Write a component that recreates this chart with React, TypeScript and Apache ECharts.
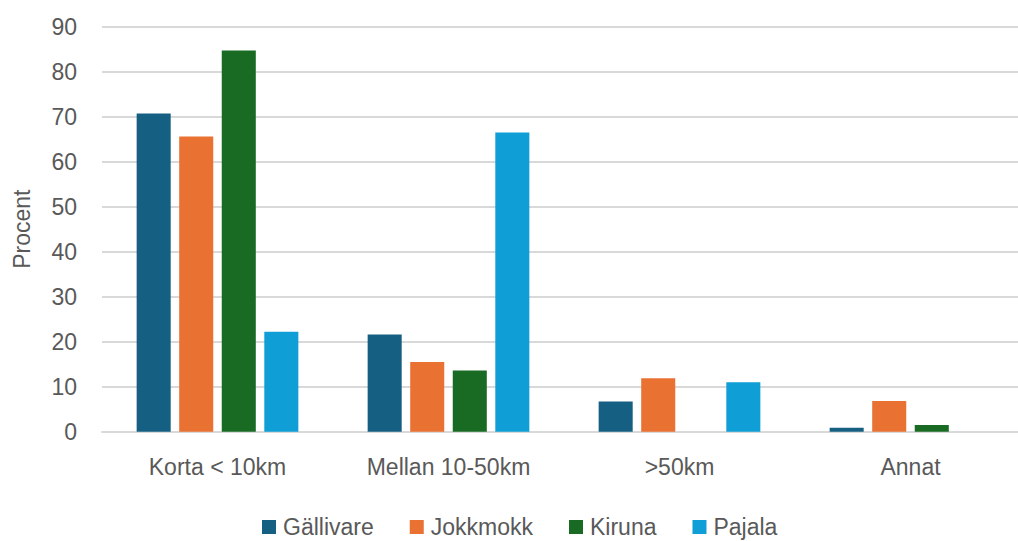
import React, { useEffect, useRef } from "react";
import * as echarts from "echarts";

const categories = ["Korta < 10km", "Mellan 10-50km", ">50km", "Annat"];
const gallivare = [70.7, 21.6, 6.7, 0.9];
const jokkmokk = [65.6, 15.5, 11.9, 6.8];
const kiruna = [84.7, 13.6, 0, 1.5];
const pajala = [22.2, 66.5, 11.0, 0];
const seriesNames = ["Gällivare", "Jokkmokk", "Kiruna", "Pajala"];
const seriesColors = ["#156082", "#E97132", "#196B24", "#0F9ED5"];

const FONT = "Liberation Sans";
const TEXT = "#595959";

export default function App() {
  const ref = useRef<HTMLDivElement>(null);
  useEffect(() => {
    if (!ref.current) return;
    const chart = echarts.init(ref.current, undefined, { renderer: "svg" });
    const data = [gallivare, jokkmokk, kiruna, pajala];
    chart.setOption({
      animation: false,
      backgroundColor: "#ffffff",
      textStyle: { fontFamily: FONT },
      grid: { left: 102, right: 4, top: 26.7, bottom: 109.3, containLabel: false },
      legend: {
        data: seriesNames,
        left: 262,
        top: 514,
        padding: 0,
        itemWidth: 14,
        itemHeight: 14,
        itemGap: 36,
        icon: "rect",
        textStyle: { fontFamily: FONT, fontSize: 23, lineHeight: 26, color: TEXT, padding: [0, 0, 0, 2] },
      },
      xAxis: {
        type: "category",
        data: categories,
        axisLine: { show: true, lineStyle: { color: "#d9d9d9", width: 2 } },
        axisTick: { show: false },
        axisLabel: { fontFamily: FONT, fontSize: 23, color: TEXT, margin: 24 },
      },
      yAxis: {
        type: "value",
        min: 0,
        max: 90,
        interval: 10,
        name: "Procent",
        nameLocation: "middle",
        nameGap: 69,
        nameTextStyle: { fontFamily: FONT, fontSize: 23, color: TEXT },
        axisLine: { show: false },
        axisTick: { show: false },
        axisLabel: { fontFamily: FONT, fontSize: 23, color: TEXT, margin: 25 },
        splitLine: { lineStyle: { color: "#d9d9d9", width: 2 } },
      },
      series: seriesNames.map((name, i) => ({
        name,
        type: "bar",
        data: data[i],
        itemStyle: { color: seriesColors[i] },
        barGap: "25%",
        barCategoryGap: "30%",
      })),
    });
    return () => chart.dispose();
  }, []);
  return (
    <div
      ref={ref}
      style={{ position: "fixed", left: 0, top: 0, width: 1030, height: 541 }}
    />
  );
}
